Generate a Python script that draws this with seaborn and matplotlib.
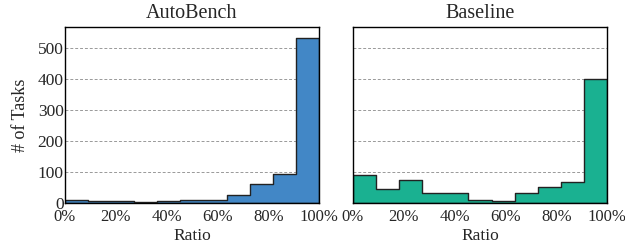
import matplotlib
matplotlib.use("Agg")
import matplotlib.pyplot as plt
import seaborn as sns
import numpy as np
import pandas as pd
from matplotlib.ticker import FuncFormatter

# Data
bin_edges = list(np.linspace(0, 1, 12))
bin_centers = [(a + b) / 2 for a, b in zip(bin_edges[:-1], bin_edges[1:])]
autobench_counts = [12, 8, 7, 3, 8, 11, 11, 28, 62, 94, 535]
baseline_counts = [90, 47, 77, 35, 34, 11, 9, 34, 52, 70, 400]
titles = ["AutoBench", "Baseline"]
colors = ["#4287c6", "#1ab191"]
xticks = [0, 0.2, 0.4, 0.6, 0.8, 1.0]
yticks = [0, 100, 200, 300, 400, 500]

sns.set_style("white")
plt.rcParams['font.family'] = ['Liberation Serif', 'DejaVu Serif']
plt.rcParams['mathtext.fontset'] = 'stix'

fig = plt.figure(figsize=(6.25, 2.48), dpi=100)
ax1 = fig.add_axes([0.104, 0.18, 0.4064, 0.712])
ax2 = fig.add_axes([0.5648, 0.18, 0.4064, 0.712], sharey=ax1)

for ax, counts, title, color in zip([ax1, ax2], [autobench_counts, baseline_counts], titles, colors):
    df = pd.DataFrame({"ratio": bin_centers, "count": counts})
    sns.histplot(data=df, x="ratio", weights="count", bins=bin_edges, element="step",
                 fill=True, color=color, alpha=1.0, edgecolor="#222222",
                 linewidth=1.0, ax=ax)
    ax.set_xlim(0, 1)
    ax.set_ylim(0, 570)
    ax.set_xticks(xticks)
    ax.xaxis.set_major_formatter(FuncFormatter(lambda v, p: f"{int(round(v*100))}%"))
    ax.set_yticks(yticks)
    ax.set_axisbelow(True)
    ax.yaxis.grid(True, linestyle=(0, (3, 2)), color="#999999", linewidth=0.7)
    ax.xaxis.grid(False)
    for s in ax.spines.values():
        s.set_color("black")
        s.set_linewidth(1.0)
    ax.tick_params(axis="x", length=0, labelsize=12, pad=4)
    ax.tick_params(axis="y", length=0, labelsize=12.5, pad=1)
    ax.set_title(title, fontsize=14.5, pad=6)
    ax.set_xlabel("Ratio", fontsize=12.5, labelpad=2)
    ax.set_ylabel("")

ax1.set_ylabel("# of Tasks", fontsize=13, labelpad=6)
ax2.tick_params(axis="y", labelleft=False)

fig.savefig("out.png", dpi=100)
